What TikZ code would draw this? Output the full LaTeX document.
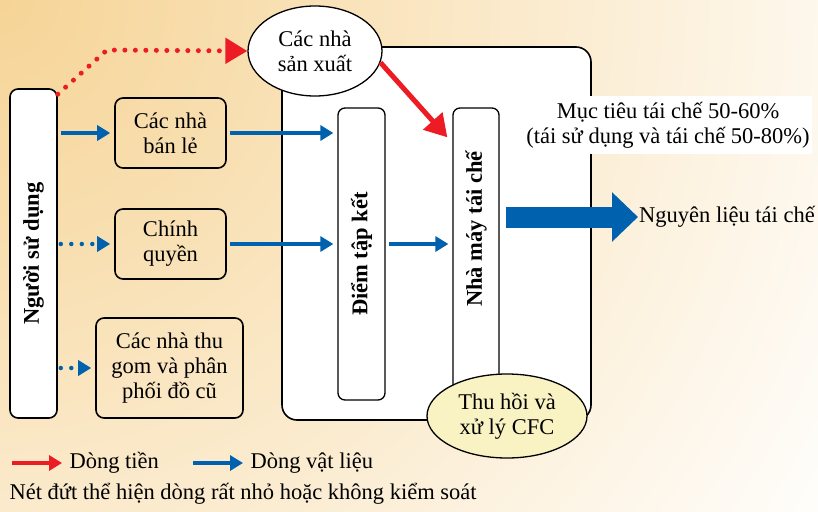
\documentclass[tikz,border=0pt]{standalone}
\usepackage{fontspec}
\setmainfont{Liberation Serif}
\usetikzlibrary{positioning,arrows.meta,shapes.geometric,calc}
\definecolor{money}{HTML}{ED1C24}
\definecolor{goods}{HTML}{0061AF}
\definecolor{peach}{HTML}{F6D496}
\definecolor{cfcfill}{HTML}{F9F2C2}

\begin{document}
\begin{tikzpicture}[x=1pt,y=-1pt,
  font=\fontsize{22.5}{25}\selectfont,
  actor/.style={draw,line width=1.6pt,rounded corners=8pt,align=center,inner sep=0pt},
  stage/.style={draw,line width=1.3pt,fill=white,rounded corners=7pt,inner sep=0pt},
  oval/.style={ellipse,draw,line width=1.3pt,align=center,inner sep=0pt},
  vtext/.style={rotate=90,font=\fontsize{22.5}{25}\selectfont\bfseries},
  flow/.style={-{Triangle[length=13pt,width=15pt]},goods,line width=4.5pt,
               shorten <=3pt,shorten >=4pt},
  cash/.style={-{Triangle[length=22pt,width=25pt]},money,line width=5pt},
  dotline/.style={dash pattern=on 0pt off 10.5pt,line cap=round}
]
\useasboundingbox (0,0) rectangle (818,511);
% background wash
\begin{scope}
  \clip (0,0) rectangle (818,511);
  \shade[inner color=peach,outer color=white] (0,0) circle (1000);
\end{scope}

% the recycling site
\node[draw,line width=1.6pt,rounded corners=15pt,fill=white,
      minimum width=309pt,minimum height=373pt] (site) at (436.5,233.5) {};
\node[stage,minimum width=47pt,minimum height=292pt] (hub) at (361.5,254) {};
\node[vtext] at (hub) {Điểm tập kết};
\node[stage,minimum width=46pt,minimum height=308pt] (plant) at (476,262) {};
\node[vtext] at ($(plant)+(0,-33)$) {Nhà máy tái chế};
\node[oval,fill=cfcfill,minimum width=160pt,minimum height=84pt] (cfc) at (507,416) {Thu hồi và\\xử lý CFC};
\node[oval,fill=white,minimum width=134pt,minimum height=90pt] (prod) at (315,51) {Các nhà\\sản xuất};

% actors on the left
\node[actor,fill=white,minimum width=47pt,minimum height=329pt] (user) at (33.5,253.5) {};
\node[vtext] at (user) {Người sử dụng};
\node[actor,minimum width=111pt,minimum height=70pt] (retail) at (170.5,133) {Các nhà\\bán lẻ};
\node[actor,minimum width=111pt,minimum height=70pt] (gov) at (170.5,244) {Chính\\quyền};
\node[actor,minimum width=147pt,minimum height=100pt] (dealer) at (169.5,368) {Các nhà thu\\gom và phân\\phối đồ cũ};

% money
\draw[cash,dotline] ([yshift=-6pt]user.north east) -- (107,50) -- (prod.west);
\draw[cash] (prod.-10) -- ($(plant.north west)+(-5,30)$);

% materials
\draw[flow] (user.east|-retail) -- (retail.west);
\draw[flow] (retail.east) -- (retail.east-|hub.west);
\draw[flow,dotline] (user.east|-gov) -- (gov.west);
\draw[flow] (gov.east) -- (gov.east-|hub.west);
\draw[flow,dotline] (user.east|-dealer) -- (dealer.west);
\draw[flow] (hub.east|-gov) -- (plant.west|-gov);

% output
\node[fill=white,align=center,inner xsep=2pt,inner ysep=6pt] (goal) at (668,125)
  {Mục tiêu tái chế 50-60\%\\(tái sử dụng và tái chế 50-80\%)};
\node[anchor=west,inner xsep=1pt] (raw) at (638,217) {Nguyên liệu tái chế};
\draw[goods,line width=21pt,-{Triangle[length=26pt,width=48pt]}]
  ([xshift=6pt]plant.east|-raw.west) -- (raw.west);

% legend
\node[anchor=west] (cashkey) at (66,463) {Dòng tiền};
\coordinate (cashfrom) at (12,463);
\draw[money,line width=4.5pt,-{Triangle[length=13pt,width=15pt]},shorten >=4pt] (cashfrom) -- (cashkey.west);
\node[anchor=west] (goodskey) at (247,463) {Dòng vật liệu};
\coordinate (goodsfrom) at (193,463);
\draw[flow,shorten <=0pt] (goodsfrom) -- (goodskey.west);
\node[anchor=west] (note) at (6,494) {Nét đứt thể hiện dòng rất nhỏ hoặc không kiểm soát};
\end{tikzpicture}
\end{document}
